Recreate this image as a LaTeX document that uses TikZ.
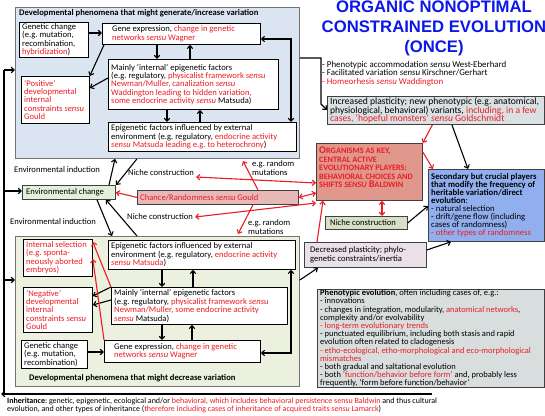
\documentclass[tikz,border=0pt]{standalone}
\usepackage{fontspec}
\setmainfont{Carlito}
\newfontfamily\titlefont{Liberation Sans}
\usetikzlibrary{arrows.meta,calc}
\definecolor{rd}{RGB}{236,28,36}
\definecolor{ttl}{RGB}{12,24,232}
\definecolor{pblue}{RGB}{219,229,241}
\definecolor{pgreen}{RGB}{235,241,222}
\definecolor{envg}{RGB}{226,239,218}
\definecolor{chf}{RGB}{230,185,184}
\definecolor{orgf}{RGB}{225,152,140}
\definecolor{ipf}{RGB}{218,225,226}
\definecolor{ncf}{RGB}{214,224,196}
\definecolor{secf}{RGB}{145,175,238}
\definecolor{dpf}{RGB}{234,224,232}
\definecolor{pef}{RGB}{216,222,221}
\frenchspacing
\newcommand\lead[2]{\fontsize{#1}{#2}\selectfont\lineskiplimit=-20pt\lineskip=0pt}
\newcommand\fs{\lead{8.6}{8.4}}
\newcommand\R[1]{\textcolor{rd}{#1}}
\newcommand\sen{\textit{sensu}}
\newcommand\SC[1]{{\fontsize{8.3}{7.75}\selectfont #1}}
\newcommand\BC[1]{{\fontsize{10.2}{7.75}\selectfont #1}}
\newcommand\BX[8]{%
  \pgfmathsetmacro\bw{#4-#2}\pgfmathsetmacro\bh{#5-#3}%
  \node[bx,#6,minimum width=\bw pt,minimum height=\bh pt] (#1) at (#2,#3) {};
  \node[lbl,anchor=west,#8] (#1-t) at ([xshift=3pt]#1.west) {#7};}
\tikzset{
  bx/.style={draw=black, line width=0.8pt, fill=white, anchor=north west, inner sep=0pt},
  panel/.style={draw=black!55, line width=0.8pt},
  rbox/.style={draw=black!75, line width=0.8pt},
  lbl/.style={font=\fs, inner sep=0pt, align=left},
  ar/.style={-{Straight Barb[length=3pt,width=5.5pt]}, line width=1.1pt},
  ar2/.style={{Straight Barb[length=3pt,width=5.5pt]}-{Straight Barb[length=3pt,width=5.5pt]}, line width=1.1pt},
  rar/.style={ar, draw=rd},
  rar2/.style={ar2, draw=rd},
}
\begin{document}
\begin{tikzpicture}[x=1pt,y=-1pt]
\useasboundingbox (0,0) rectangle (545,415);
% panels
\node[bx,panel,fill=pblue,minimum width=284pt,minimum height=151pt] (P1) at (15,7) {};
\node[bx,panel,fill=pgreen,minimum width=284pt,minimum height=150pt] (P2) at (15,236) {};
\node[lbl,anchor=west,font=\fs\bfseries] (h1) at (19,13.5) {Developmental phenomena that might generate/increase variation};
\node[lbl,anchor=west,font=\fs\bfseries] (h2) at (29,378) {Developmental phenomena that might decrease variation};
% top panel boxes
\BX{gc1}{19}{22}{88}{57}{}{Genetic change\\(e.g. mutation,\\recombination,\\\R{hybridization})}{}
\BX{ge1}{102}{23}{260}{44}{}{\hspace*{7pt}Gene expression, \R{change in genetic}\\\hspace*{7pt}\R{networks \sen\ Wagner}}{}
\BX{pos}{21}{76}{89}{123}{}{`Positive'\\developmental\\internal\\constraints \sen\\Gould}{text=rd}
\BX{mi1}{108}{59}{278}{109}{}{Mainly `internal' epigenetic factors\\(e.g. regulatory, \R{physicalist framework \sen}\\\R{Newman/Muller, canalization \sen}\\\R{Waddington leading to hidden variation,}\\\R{some endocrine activity \sen} Matsuda)}{}
\BX{ee1}{108}{122}{296}{151}{}{Epigenetic factors influenced by external\\environment (e.g. regulatory, \R{endocrine activity}\\\R{\sen\ Matsuda leading e.g. to heterochrony})}{}
% lower panel boxes
\BX{ins}{23}{239}{92}{276}{}{Internal selection\\(e.g. sponta-\\neously aborted\\embryos)}{text=rd}
\BX{ee2}{108}{240}{295}{269}{}{Epigenetic factors influenced by external\\environment (e.g. regulatory, \R{endocrine activity}\\\R{\sen\ Matsuda})}{}
\BX{neg}{23}{287}{92}{332}{}{`Negative'\\developmental\\internal\\constraints \sen\\Gould}{text=rd}
\BX{mi2}{111}{287}{287}{324}{}{Mainly `internal' epigenetic factors\\(e.g. regulatory, \R{physicalist framework \sen}\\\R{Newman/Muller, some endocrine activity}\\\R{\sen} Matsuda)}{}
\BX{gc2}{21}{340}{87}{368}{}{Genetic change\\(e.g. mutation,\\recombination)}{}
\BX{ge2}{104}{340}{260}{362}{}{\hspace*{7pt}Gene expression, \R{change in genetic}\\\hspace*{7pt}\R{networks \sen\ Wagner}}{}
% middle
\BX{envc}{22}{185}{115}{199}{fill=envg,rbox}{\hspace*{1pt}Environmental change}{}
\BX{chance}{137}{190}{298}{204}{fill=chf,rbox}{Chance/Randomness \sen\ Gould}{text=rd}
\node[lbl,anchor=west] (ei1) at (14,170) {Environmental induction};
\node[lbl,anchor=west] (ei2) at (10,222) {Environmental induction};
\node[lbl,anchor=west] (nl1) at (128,173) {Niche construction};
\node[lbl,anchor=west] (nl2) at (127,217) {Niche construction};
\node[lbl,anchor=west] (rm1) at (252,168) {e.g. random\\mutations};
\node[lbl,anchor=west] (rm2) at (248,227) {e.g. random\\mutations};
% right column
\node[font=\titlefont\bfseries\fontsize{16.7}{20}\selectfont, text=ttl, align=center, inner sep=0pt] (title) at (434,28) {ORGANIC NONOPTIMAL\\CONSTRAINED EVOLUTION\\(ONCE)};
\node[lbl,anchor=north west,font=\lead{8.9}{8.5}] (bul) at (322,61) {- Phenotypic accommodation \sen\ West-Eberhard\\- Facilitated variation \sen\ Kirschner/Gerhart\\\R{- Homeorhesis \sen\ Waddington}};
\BX{ip}{327}{96}{544}{124}{fill=ipf,rbox}{Increased plasticity; new phenotypic (e.g. anatomical,\\physiological, behavioral) variants, \R{including, in a few}\\\R{cases, `hopeful monsters' \sen\ Goldschmidt}}{font=\lead{9.6}{8.5}}
\node[bx,fill=orgf,rbox,minimum width=106pt,minimum height=57pt] (org) at (316,143) {};
\node[lbl,anchor=north west,font=\fs\bfseries,text=rd] (org-t) at (319,147) {\BC{O}\SC{RGANISMS AS KEY,}\\\SC{CENTRAL ACTIVE}\\\SC{EVOLUTIONARY PLAYERS:}\\\SC{BEHAVIORAL CHOICES AND}\\\SC{SHIFTS \textit{SENSU} }\BC{B}\SC{ALDWIN}};
\BX{nc}{325}{216}{407}{229}{fill=ncf,rbox}{\hspace*{2pt}Niche construction}{}
\BX{sec}{428}{169}{544}{241}{fill=secf,rbox}{\textbf{Secondary but crucial players}\\\textbf{that modify the frequency of}\\\textbf{heritable variation/direct}\\\textbf{evolution}:\\- natural selection\\- drift/gene flow (including\\cases of randomness)\\\R{- other types of randomness}}{font=\lead{8.7}{8}}
\BX{dp}{304}{242}{426}{267}{fill=dpf,rbox}{\hspace*{3pt}Decreased plasticity; phylo-\\\hspace*{3pt}genetic constraints/inertia}{}
\BX{pe}{317}{289}{544}{387}{fill=pef,rbox}{\textbf{Phenotypic evolution}, often including cases of, e.g.:\\- innovations\\- changes in integration, modularity, \R{anatomical networks},\\complexity and/or evolvability\\\R{- long-term evolutionary trends}\\- punctuated equilibrium, including both stasis and rapid\\evolution often related to cladogenesis\\\R{- etho-ecological, etho-morphological and eco-morphological}\\\R{mismatches}\\- both gradual and saltational evolution\\- both \R{`function/behavior before form'} and, probably less\\frequently, `form before function/behavior'}{font=\lead{8.5}{8.2}}
\node[lbl,anchor=north west,font=\lead{8.0}{8}] (inh) at (7,398) {\textbf{Inheritance}: genetic, epigenetic, ecological and/or \R{behavioral, which includes behavioral persistence sensu Baldwin} and thus cultural\\evolution, and other types of inheritance (\R{therefore including cases of inheritance of acquired traits \sen\ Lamarck})};
% top panel connectors
\draw[ar] (gc1.east|-0,33) -- (ge1.west|-0,33);
\draw[ar] (157,0|-ge1.south) -- (157,0|-mi1.north);
\draw[ar] (190,0|-mi1.north) -- (190,0|-ge1.south);
\draw[ar] ([xshift=2pt]ge1.south west) -- (pos.north east);
\draw[ar] (mi1.west|-0,78) -- (pos.east|-0,88);
\draw[ar] (167,0|-mi1.south) -- (167,0|-ee1.north);
\draw[ar] (200,0|-ee1.north) -- (200,0|-mi1.south);
\draw[ar2] (ge1.east|-0,39) -| (291,0|-ee1.north);
% lower panel connectors
\draw[ar] (162,0|-ee2.south) -- (162,0|-mi2.north);
\draw[ar] (193,0|-mi2.north) -- (193,0|-ee2.south);
\draw[ar] (162,0|-mi2.south) -- (162,0|-ge2.north);
\draw[ar] (192,0|-ge2.north) -- (192,0|-mi2.south);
\draw[ar] (gc2.east|-0,352) -- (ge2.west|-0,352);
\draw[ar2] (ge2.east|-0,353) -| (291,0|-ee2.south);
\draw[ar] (mi2.north west) -- (neg.east|-0,296);
\draw[ar] (mi2.west|-0,300) -- (neg.east|-0,305);
\draw[rar] (mi2.north west) -- (ins.east|-0,242);
\draw[rar] (ge2.north west) -- (ins.east|-0,259);
% between panels
\draw[ar] (109,0|-envc.north) -- (115,0|-P1.south);
\draw[ar] (137,0|-P1.south) -- (116,0|-envc.north);
\draw[ar] (97,0|-envc.south) -- (112,0|-P2.north);
\draw[ar] (137,0|-P2.north) -- (106,0|-envc.south);
\draw[rar] (chance.west) -- (envc.east);
% inheritance loop
\coordinate (lb) at (4,394);
\draw[line width=1.1pt] (432,394) -- (lb) -- (4,70);
\draw[ar] (4,70) -- (P1.west|-0,70);
\draw[ar] (4,191) -- (envc.west|-0,191);
\draw[ar] (4,280) -- (P2.west|-0,280);
\draw[ar] (9,394) -- (1,394);
% red fan
\draw[rar] (258,0|-chance.north) -- (243,161);
\draw[rar] (253,0|-chance.south) -- (238,234);
\draw[rar2] (chance.east) -- (org.west|-0,193);
\draw[rar2] ([xshift=2pt]nl1.east|-0,177) -- (org.west|-0,183);
\draw[rar2] ([xshift=2pt]nl2.east|-0,217) -- (org.west|-0,203);
% right connectors
\draw[ar] (P1.east|-0,58) -- (321,58) -- (321,104) -- (ip.west|-0,110);
\draw[rar] ([xshift=-3.5pt]ip.south) -- (org.north east);
\draw[ar] ([xshift=16pt]ip.south) -- (468,0|-sec.north);
\draw[rar] (org.east|-0,152) -- (433,0|-sec.north);
\draw[rar2] (382,0|-org.south) -- (382,0|-nc.north);
\draw[ar] (nc.east) -- (sec.west|-0,206);
\draw[rar] (317,0|-dp.north) -- (323,0|-org.south);
\draw[ar] (dp.east|-0,250) -- (451,0|-sec.south);
\draw[ar] (P2.east|-0,280) -- (318,0|-dp.south);
\end{tikzpicture}
\end{document}
